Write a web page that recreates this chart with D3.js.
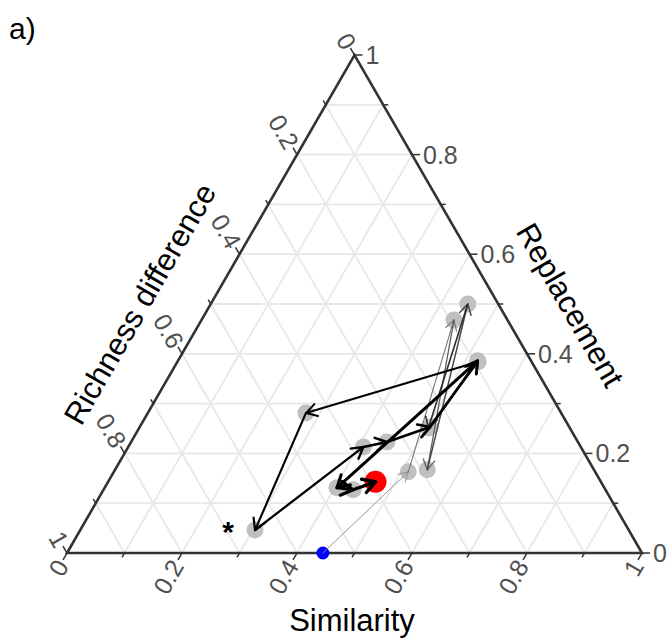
<!DOCTYPE html>
<html>
<head>
<meta charset="utf-8">
<script src="https://cdn.jsdelivr.net/npm/d3@7"></script>
<style>
body { margin: 0; background: #fff; }
text { font-family: "Liberation Sans", Arial, sans-serif; }
</style>
</head>
<body>
<div id="chart-area"></div>
<script>
// composition of each step, in order (first = blue, last = red)
var similarity  = [0.445, 0.512, 0.439, 0.543, 0.447, 0.503, 0.523, 0.275, 0.304, 0.409, 0.445, 0.505, 0.521, 0.404, 0.434, 0.465];
var replacement = [0.000, 0.163, 0.468, 0.167, 0.500, 0.251, 0.384, 0.281, 0.046, 0.213, 0.223, 0.253, 0.386, 0.131, 0.127, 0.143];
var richness    = [0.555, 0.325, 0.093, 0.290, 0.053, 0.246, 0.093, 0.444, 0.650, 0.378, 0.332, 0.242, 0.093, 0.465, 0.439, 0.392];
var starIndex = 8;

var tickValues = [0, 0.2, 0.4, 0.6, 0.8, 1];
var tickLabels = ["0", "0.2", "0.4", "0.6", "0.8", "1"];
var gridValues = [0.1, 0.2, 0.3, 0.4, 0.5, 0.6, 0.7, 0.8, 0.9];

var width = 668, height = 640;

var svg = d3.select("#chart-area")
    .append("svg")
        .attr("width", width)
        .attr("height", height);

// base runs along x, replacement goes up
var x = d3.scaleLinear().domain([0, 1]).range([67, 642]);
var y = d3.scaleLinear().domain([0, 1]).range([553, 55]);

function pt(s, r, d) {
    var tot = s + r + d;
    s = s / tot; r = r / tot;
    return [x(s + r / 2), y(r)];
}

// Grid
var grid = svg.append("g");
gridValues.forEach(function(v) {
    var lines = [
        [pt(0, v, 1 - v), pt(1 - v, v, 0)],   // replacement
        [pt(v, 0, 1 - v), pt(v, 1 - v, 0)],   // similarity
        [pt(0, 1 - v, v), pt(1 - v, 0, v)]    // richness difference
    ];
    lines.forEach(function(l) {
        grid.append("line")
            .attr("x1", l[0][0]).attr("y1", l[0][1])
            .attr("x2", l[1][0]).attr("y2", l[1][1])
            .attr("stroke", "#e8e8e8")
            .attr("stroke-width", 1.8);
    });
});

// Triangle
var corners = [pt(0, 0, 1), pt(1, 0, 0), pt(0, 1, 0)];
svg.append("path")
    .attr("d", "M" + corners.join("L") + "Z")
    .attr("fill", "none")
    .attr("stroke", "#333")
    .attr("stroke-width", 2.6)
    .attr("stroke-linejoin", "miter");

// Ticks
var ticks = svg.append("g");
var c60 = 0.5, s60 = Math.sqrt(3) / 2;
var axes = [
    { at: function(v) { return pt(1 - v, v, 0); }, dir: [1, 0], rot: 0, anchor: "start", off: 11 },         // replacement
    { at: function(v) { return pt(v, 0, 1 - v); }, dir: [-c60, s60], rot: -60, anchor: "end", off: 10 },   // similarity
    { at: function(v) { return pt(0, 1 - v, v); }, dir: [-c60, -s60], rot: 60, anchor: "end", off: 9 }     // richness
];
axes.forEach(function(a) {
    gridValues.concat([0, 1]).forEach(function(v) {
        var p = a.at(v);
        var major = Math.round(v * 10) % 2 === 0;
        var len = major ? 8 : 5;
        ticks.append("line")
            .attr("x1", p[0]).attr("y1", p[1])
            .attr("x2", p[0] + a.dir[0] * len).attr("y2", p[1] + a.dir[1] * len)
            .attr("stroke", "#333")
            .attr("stroke-width", 1.5);
    });
    tickValues.forEach(function(v, i) {
        var p = a.at(v);
        var lx = p[0] + a.dir[0] * a.off, ly = p[1] + a.dir[1] * a.off;
        ticks.append("text")
            .attr("transform", "translate(" + lx + "," + ly + ") rotate(" + a.rot + ")")
            .attr("text-anchor", a.anchor)
            .attr("dominant-baseline", "central")
            .attr("font-size", "25px")
            .attr("fill", "#505050")
            .text(tickLabels[i]);
    });
});

// Axis titles
svg.append("text")
    .attr("x", 352).attr("y", 631)
    .attr("text-anchor", "middle")
    .attr("font-size", "31px")
    .text("Similarity");

svg.append("text")
    .attr("transform", "translate(570,305) rotate(60)")
    .attr("text-anchor", "middle")
    .attr("dominant-baseline", "central")
    .attr("font-size", "31px")
    .text("Replacement");

svg.append("text")
    .attr("transform", "translate(140,304) rotate(-60)")
    .attr("text-anchor", "middle")
    .attr("dominant-baseline", "central")
    .attr("font-size", "31px")
    .text("Richness difference");

svg.append("text")
    .attr("x", 9).attr("y", 39)
    .attr("font-size", "30px")
    .text("a)");

// Points
var data = similarity.map(function(s, i) {
    var p = pt(s, replacement[i], richness[i]);
    return { x: p[0], y: p[1], i: i };
});
var last = data.length - 1;

svg.selectAll("circle.step")
    .data(data.slice(1, last))
    .enter()
    .append("circle")
        .attr("class", "step")
        .attr("cx", function(d) { return d.x; })
        .attr("cy", function(d) { return d.y; })
        .attr("r", 8.5)
        .attr("fill", "#c0c0c0");

svg.append("circle")
    .attr("cx", data[last].x).attr("cy", data[last].y)
    .attr("r", 11)
    .attr("fill", "#ff0000");

svg.append("circle")
    .attr("cx", data[0].x).attr("cy", data[0].y)
    .attr("r", 6.5)
    .attr("fill", "#0000ff");

svg.append("text")
    .attr("x", data[starIndex].x - 27).attr("y", data[starIndex].y + 12)
    .attr("text-anchor", "middle")
    .attr("font-size", "30px")
    .attr("font-weight", "bold")
    .text("*");

// Arrows: later steps drawn thicker and darker
var segs = d3.range(last);
var w = d3.scaleLinear().domain([0, last - 1]).range([0.9, 3.4]);
var col = d3.scaleLinear().domain([0, 6]).range(["#8a8a8a", "#000000"]).clamp(true);

var arrows = svg.append("g").attr("fill", "none").attr("stroke-linecap", "round").attr("stroke-linejoin", "round");
segs.forEach(function(k) {
    var a = data[k], b = data[k + 1];
    var ang = Math.atan2(b.y - a.y, b.x - a.x);
    var hl = 10 + w(k) * 1.2;
    var h1 = [b.x - hl * Math.cos(ang - Math.PI / 6), b.y - hl * Math.sin(ang - Math.PI / 6)];
    var h2 = [b.x - hl * Math.cos(ang + Math.PI / 6), b.y - hl * Math.sin(ang + Math.PI / 6)];
    arrows.append("path")
        .attr("d", "M" + a.x + "," + a.y + "L" + b.x + "," + b.y +
                   "M" + h1 + "L" + b.x + "," + b.y + "L" + h2)
        .attr("stroke", col(k))
        .attr("stroke-width", w(k));
});
</script>
</body>
</html>
